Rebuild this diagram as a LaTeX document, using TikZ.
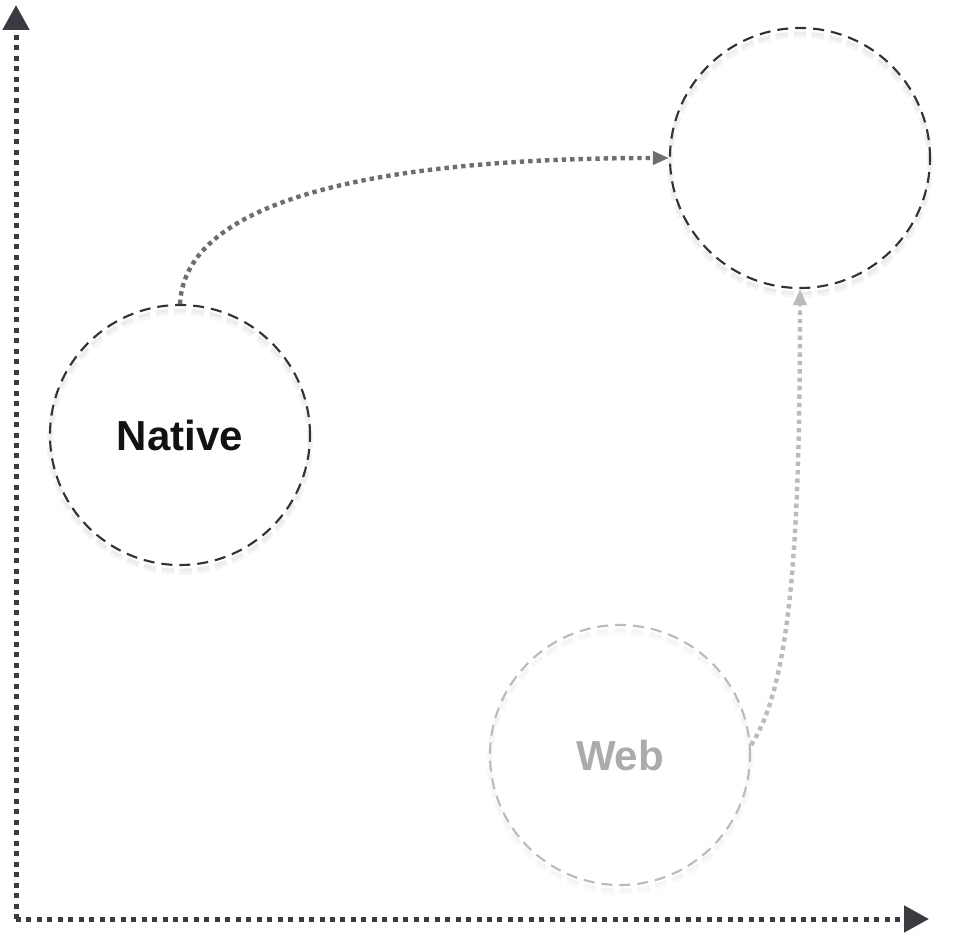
\documentclass[tikz,border=0pt]{standalone}
\usepackage{fontspec}
\setmainfont{Liberation Sans}
\usetikzlibrary{arrows.meta}

\definecolor{axiscol}{HTML}{3A3A40}
\definecolor{ringdark}{HTML}{333333}
\definecolor{ringlight}{HTML}{BBBBBB}
\definecolor{pathdark}{HTML}{6E6E72}
\definecolor{pathlight}{HTML}{BBBBBB}

\tikzset{
  bubble/.style={circle, draw=#1, line width=1.6pt, dash pattern=on 8.25pt off 5.25pt,
    minimum size=195pt, inner sep=0pt, font=\fontsize{31.5}{36}\selectfont\bfseries},
  bubshadow/.style={draw=black, draw opacity=#1, line width=5pt, dash pattern=on 9.5pt off 4pt},
  axisline/.style={axiscol, line width=3.75pt, dash pattern=on 3.75pt off 4.1pt,
    -{Triangle[length=18.75pt, width=19.5pt]}},
  moveline/.style={#1, line width=3.3pt, dash pattern=on 3.3pt off 3pt,
    -{Triangle[length=12pt, width=9.75pt]}}
}

\begin{document}
\begin{tikzpicture}[x=0.75pt, y=0.75pt]
      \useasboundingbox (0,0) rectangle (979,-938);

      \coordinate (origin) at (16,-919);
      \coordinate (ytop) at (16,-5);
      \coordinate (xend) at (929,-919);

      \coordinate (pnative) at (180,-435);
      \coordinate (ptarget) at (800,-158);
      \coordinate (pweb) at (620,-755);

      \foreach \c/\o in {pnative/0.035, ptarget/0.035, pweb/0.018}{
        \draw [bubshadow=\o] ([yshift=-5pt]\c) circle (97.5pt);
        \draw [bubshadow=\o, line width=2.5pt] ([yshift=-4pt]\c) circle (97.5pt);
      }

      \draw [axisline] (origin) -- (ytop);
      \draw [axisline] (origin) -- (xend);

      \node [bubble=ringdark, text=black!93] (native) at (pnative) { Native };
      \node [bubble=ringdark] (target) at (ptarget) {};
      \node [bubble=ringlight, text=black!33] (web) at (pweb) { Web };

      \draw [moveline=pathdark] (native.north) .. controls +(5,105) and +(-290,0) .. (target.west);
      \draw [moveline=pathlight] ([yshift=7.5pt]web.east) .. controls +(40,60) and +(0,-250) .. (target.south);
    \end{tikzpicture}
\end{document}
